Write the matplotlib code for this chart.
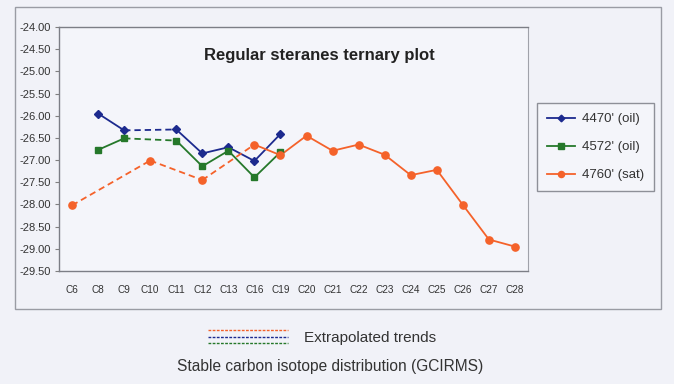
import numpy as np
import matplotlib
matplotlib.use("Agg")
import matplotlib.pyplot as plt
from matplotlib.lines import Line2D
from matplotlib.patches import Rectangle

plt.rcParams['font.family'] = ['Liberation Sans', 'DejaVu Sans']

categories = ["C6", "C8", "C9", "C10", "C11", "C12", "C13", "C16", "C19", "C20",
              "C21", "C22", "C23", "C24", "C25", "C26", "C27", "C28"]
nan = np.nan
s4470 = [nan, -25.95, -26.33, nan, -26.31, -26.85, -26.71, -27.02, -26.41, nan,
         nan, nan, nan, nan, nan, nan, nan, nan]
s4572 = [nan, -26.77, -26.51, nan, -26.56, -27.14, -26.79, -27.39, -26.82, nan,
         nan, nan, nan, nan, nan, nan, nan, nan]
s4760 = [-28.02, nan, nan, -27.01, nan, -27.45, nan, -26.65, -26.89, -26.45,
         -26.79, -26.65, -26.88, -27.34, -27.22, -28.01, -28.79, -28.95]
# extrapolated (dashed) segments, given as pairs of category labels
dash_4470 = [("C9", "C11")]
dash_4572 = [("C9", "C11")]
dash_4760 = [("C6", "C10"), ("C10", "C12"), ("C12", "C16")]

series = [
    ("4470' (oil)", s4470, dash_4470, "#1c2a8e", "D", 4.2),
    ("4572' (oil)", s4572, dash_4572, "#25782a", "s", 5.0),
    ("4760' (sat)", s4760, dash_4760, "#f4622a", "o", 5.2),
]

W, H = 674, 384
fig = plt.figure(figsize=(W / 100, H / 100), dpi=100)
bg = "#f1f2f8"
fig.patch.set_facecolor(bg)

# outer chart frame
fig.patches.append(Rectangle((15 / W, 1 - 309 / H), (661 - 15) / W, (309 - 7) / H,
                             transform=fig.transFigure, fill=False,
                             edgecolor="#9a9ca4", linewidth=1.0))

ax = fig.add_axes([59 / W, 1 - 271 / H, (528 - 59) / W, (271 - 27) / H])
ax.set_facecolor("#f4f5fa")

x = np.arange(len(categories))
idx = {c: i for i, c in enumerate(categories)}
handles = []
for label, vals, dashes, color, marker, ms in series:
    v = np.array(vals, dtype=float)
    valid = [i for i in range(len(v)) if not np.isnan(v[i])]
    dash_set = {(idx[a], idx[b]) for a, b in dashes}
    for a, b in zip(valid[:-1], valid[1:]):
        ls = (0, (3.5, 2.2)) if (a, b) in dash_set else "-"
        ax.plot([x[a], x[b]], [v[a], v[b]], color=color, linestyle=ls,
                linewidth=1.3, zorder=2)
    ax.plot(x[valid], v[valid], linestyle="none", marker=marker, markersize=ms,
            color=color, zorder=3)
    handles.append(Line2D([0], [0], color=color, marker=marker, markersize=ms - 0.8,
                          linewidth=1.3, label=label))

ax.set_xlim(-0.5, len(categories) - 0.5)
ax.set_ylim(-29.5, -24.0)
ax.set_xticks(x)
ax.set_xticklabels(categories)
yt = np.arange(-29.5, -23.99, 0.5)
ax.set_yticks(yt)
ax.set_yticklabels([f"{t:.2f}" for t in yt])
ax.tick_params(axis="x", length=0, pad=10, labelsize=7.2, colors="#333333")
ax.tick_params(axis="y", length=3, width=0.8, color="#808080", pad=3,
               labelsize=8, labelcolor="#333333")
for side in ["left", "bottom", "top"]:
    ax.spines[side].set_color("#7c7e86")
    ax.spines[side].set_linewidth(1.0)
ax.spines["right"].set_color("#a0a2aa")
ax.spines["right"].set_linewidth(0.8)
ax.spines["right"].set_linestyle((0, (1, 1)))

ax.text(0.555, 0.882, "Regular steranes ternary plot", transform=ax.transAxes,
        ha="center", va="center", fontsize=12, fontweight="bold", color="#222222")

leg = fig.legend(handles=handles, loc="upper left",
                 bbox_to_anchor=(537 / W, 1 - 103 / H), borderaxespad=0,
                 fontsize=9.5, handlelength=2.1, labelspacing=1.2, borderpad=0.75,
                 handletextpad=0.55, fancybox=False, framealpha=1,
                 edgecolor="#8e9098", facecolor="#f4f5fa")
leg.get_frame().set_linewidth(1.0)
for t in leg.get_texts():
    t.set_color("#333333")

# extrapolated trends key
for yy, c in [(330, "#f4622a"), (336.5, "#1c2a8e"), (343, "#25782a")]:
    fig.add_artist(Line2D([208 / W, 288 / W], [1 - yy / H, 1 - yy / H],
                          transform=fig.transFigure, color=c, linewidth=1.0,
                          linestyle=(0, (2.0, 1.0))))
fig.text(304 / W, 1 - 338 / H, "Extrapolated trends", ha="left", va="center",
         fontsize=11, color="#333333")
fig.text(330 / W, 1 - 366 / H, "Stable carbon isotope distribution (GCIRMS)",
         ha="center", va="center", fontsize=11.2, color="#333333")

fig.savefig("out.png", dpi=100, facecolor=bg)
